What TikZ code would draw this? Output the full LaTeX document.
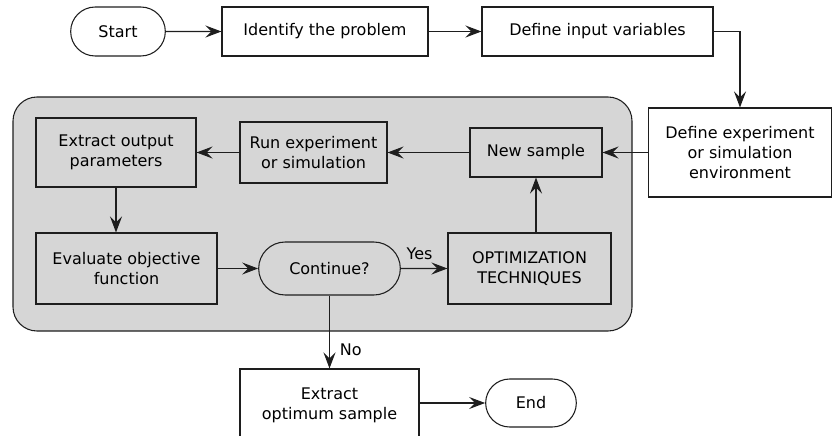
\documentclass[tikz,border=0pt]{standalone}
\usepackage{fontspec}
\setmainfont{DejaVu Sans}
\usepackage{xcolor}
\usetikzlibrary{arrows.meta, shapes.misc}
\definecolor{panelgray}{RGB}{214,214,214}
\definecolor{linegray}{RGB}{30,30,30}

\begin{document}
\begin{tikzpicture}[x=0.75pt, y=-0.75pt,
    font=\fontsize{12}{15}\selectfont, line width=0.8pt,
    flowbox/.style={draw=linegray, rectangle, align=center, inner sep=2pt},
    termbox/.style={draw=linegray, rounded rectangle, align=center, inner sep=2pt},
    flowarrow/.style={draw=linegray, -{Stealth[length=12pt, width=9pt, inset=4.5pt]}}]
        \useasboundingbox (0,0) rectangle (833,436);
        % Loop panel
        \fill[panelgray] (13,97) [rounded corners=18pt] rectangle (632,331);
        \draw[linegray, rounded corners=18pt] (13,97) rectangle (632,331);
        % Top row
        \node[termbox, minimum width=75pt, minimum height=36.75pt] (start) at (118,31.5) {Start};
        \node[flowbox, minimum width=154.5pt, minimum height=36.75pt, fill=white] (identify) at (325,31.5) {Identify the problem};
        \node[flowbox, minimum width=173.25pt, minimum height=36.75pt, fill=white] (definput) at (597.5,31.5) {Define input variables};
        \node[flowbox, minimum width=137.25pt, minimum height=66.75pt, fill=white] (defenv) at (740,152.5) {Define experiment\\or simulation\\environment};
        % Inside the loop
        \node[flowbox, minimum width=99pt, minimum height=36.75pt] (newsample) at (536,152.5) {New sample};
        \node[flowbox, minimum width=110.25pt, minimum height=45.75pt] (runexp) at (313.5,152.5) {Run experiment\\or simulation};
        \node[flowbox, minimum width=120pt, minimum height=51.75pt] (extractout) at (116,152.5) {Extract output\\parameters};
        \node[flowbox, minimum width=135.75pt, minimum height=53.25pt] (evaluate) at (126.5,268.5) {Evaluate objective\\function};
        \node[termbox, minimum width=110.25pt, minimum height=39.75pt] (continue) at (329.5,268.5) {Continue?};
        \node[flowbox, minimum width=122.25pt, minimum height=53.25pt] (optim) at (529.5,268.5) {OPTIMIZATION\\TECHNIQUES};
        % Bottom row
        \node[flowbox, minimum width=134.25pt, minimum height=54pt, fill=white] (extractopt) at (329.5,405) {Extract\\optimum sample};
        \node[termbox, minimum width=72pt, minimum height=36pt, fill=white] (end) at (531,403) {End};
        % Connectors
        \draw[flowarrow] (start) -- (identify);
        \draw[flowarrow] (identify) -- (definput);
        \draw[flowarrow] (definput.east) -| (defenv.north);
        \draw[flowarrow] (defenv) -- (newsample);
        \draw[flowarrow] (newsample) -- (runexp);
        \draw[flowarrow] (runexp) -- (extractout);
        \draw[flowarrow] (extractout.south) -- (extractout.south |- evaluate.north);
        \draw[flowarrow] (evaluate) -- (continue);
        \draw[flowarrow] (continue) -- node[above, pos=0.4, yshift=3pt] {Yes} (optim);
        \draw[flowarrow] (optim.north -| newsample.south) -- (newsample.south);
        \draw[flowarrow] (continue.south) -- node[right, pos=0.75, xshift=4pt] {No} (extractopt.north);
        \draw[flowarrow] (extractopt.east |- end.west) -- (end.west);
      \end{tikzpicture}
\end{document}
